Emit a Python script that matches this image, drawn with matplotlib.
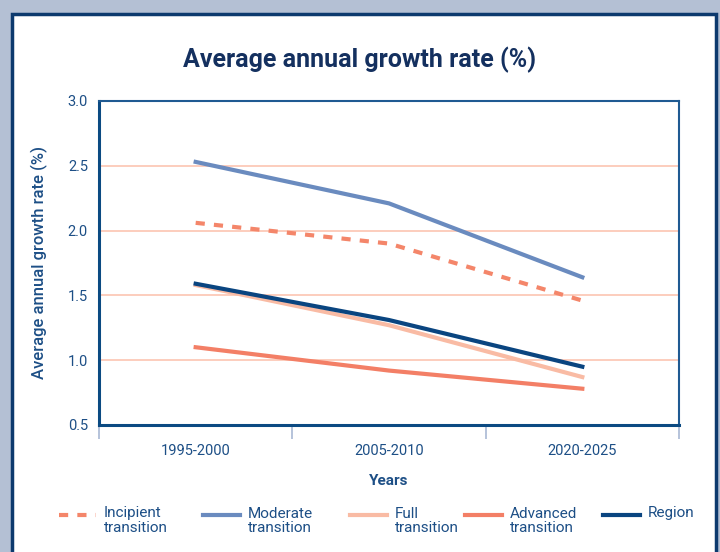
import matplotlib.pyplot as plt
from matplotlib.patches import Rectangle
from matplotlib.lines import Line2D

periods = ["1995-2000", "2005-2010", "2020-2025"]
incipient = [2.06, 1.90, 1.46]
moderate = [2.53, 2.21, 1.64]
full = [1.58, 1.27, 0.87]
advanced = [1.10, 0.92, 0.78]
region = [1.59, 1.31, 0.95]
series_names = ["Incipient\ntransition", "Moderate\ntransition", "Full\ntransition",
                "Advanced\ntransition", "Region"]
series_colors = ["#f4866a", "#6a8bbf", "#f9bba4", "#f37f66", "#0a4580"]
series_styles = [(0, (2.2, 2.2)), "-", "-", "-", "-"]

NAVY = "#0b4a82"
TEXT = "#1d4f86"
W, H = 720, 552

plt.rcParams["font.family"] = ["Roboto", "DejaVu Sans"]

fig = plt.figure(figsize=(7.2, 5.52), dpi=100)
fig.patch.set_facecolor("#b4c0d4")

# white panel with navy frame
fig.patches.append(Rectangle((12 / W, -0.05), 704 / W, 1 - 14 / H + 0.05,
                             transform=fig.transFigure, facecolor="white",
                             edgecolor="#0d3a6e", lw=2.5, zorder=-5))

ax = fig.add_axes([99 / W, 1 - 425 / H, 580 / W, 324 / H])
ax.set_zorder(2)
x = range(len(periods))

for y in [1.0, 1.5, 2.0, 2.5]:
    ax.axhline(y, color="#fcc9b8", lw=1.3, zorder=1)

values = [incipient, moderate, full, advanced, region]
for vals, c, ls in zip(values, series_colors, series_styles):
    ax.plot(x, vals, color=c, lw=3, ls=ls, zorder=3)

ax.set_xlim(-0.5, 2.5)
ax.set_ylim(0.5, 3.0)
ax.set_yticks([0.5, 1.0, 1.5, 2.0, 2.5, 3.0])
ax.set_yticklabels(["0.5", "1.0", "1.5", "2.0", "2.5", "3.0"])
ax.tick_params(axis="y", length=0, pad=8, labelsize=10.5, labelcolor=TEXT)
ax.set_xticks([-0.5, 0.5, 1.5, 2.5])
ax.set_xticklabels([])
ax.set_xticks(list(x), minor=True)
ax.set_xticklabels(periods, minor=True)
ax.tick_params(axis="x", which="major", length=10, width=1.2, color="#a9b9d4", direction="out")
ax.tick_params(axis="x", which="minor", length=0, pad=14, labelsize=10.5, labelcolor=TEXT)

for side in ["left", "bottom"]:
    ax.spines[side].set_color(NAVY)
    ax.spines[side].set_linewidth(2.2)
for side in ["top", "right"]:
    ax.spines[side].set_color("#1f5a92")
    ax.spines[side].set_linewidth(1.5)

ax.set_ylabel("Average annual growth rate (%)", fontsize=12, fontweight="medium",
              color=TEXT, labelpad=14)
ax.set_xlabel("Years", fontsize=11, fontweight="bold", color=TEXT, labelpad=11)

fig.text(0.5, 1 - 60 / H, "Average annual growth rate (%)", ha="center", va="center",
         fontsize=18, fontweight="bold", color="#14305f")

# legend drawn by hand: entries are spread unevenly and the key line sits
# at the level of the first text line
leg_x = [59, 203, 350, 465, 603]
for name, c, ls, lx in zip(series_names, series_colors, series_styles, leg_x):
    fig.add_artist(Line2D([lx / W, (lx + 37) / W], [1 - 515 / H] * 2, color=c, lw=3, ls=ls,
                          transform=fig.transFigure))
    for i, line in enumerate(name.split("\n")):
        fig.text((lx + 45) / W, 1 - (517.5 + 15 * i) / H, line, ha="left", va="baseline",
                 fontsize=11, color=TEXT)

fig.savefig("out.png", dpi=100, facecolor=fig.get_facecolor())
